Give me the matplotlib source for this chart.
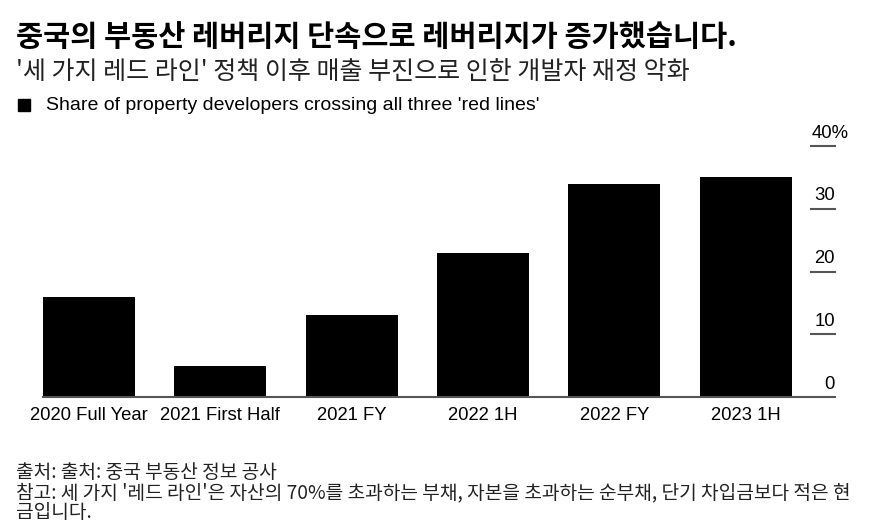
import matplotlib.pyplot as plt

# data
categories = ['2020 Full Year', '2021 First Half', '2021 FY', '2022 1H', '2022 FY', '2023 1H']
share = [16, 5, 13, 23, 34, 35]
y_ticks = [0, 10, 20, 30, 40]

KR = ['Noto Sans CJK KR', 'DejaVu Sans']
LAT = ['Liberation Sans', 'DejaVu Sans']

fig = plt.figure(figsize=(8.75, 5.31), dpi=100)
W, H = 875, 531

def fx(px):
    return px / W

def fy(py):
    return 1 - py / H

ax = fig.add_axes([fx(43), fy(397), fx(835) - fx(43), fy(146) - fy(397)])

x = list(range(len(categories)))
ax.bar(x, share, width=0.7, color='black', zorder=2)
ax.set_xlim(-0.35, 5.68)
ax.set_ylim(0, 40)

for s in ['top', 'right', 'left']:
    ax.spines[s].set_visible(False)
ax.spines['bottom'].set_color('#555555')
ax.spines['bottom'].set_linewidth(1.5)

ax.set_yticks([])
ax.set_xticks(x)
ax.set_xticklabels(categories, fontfamily=LAT, fontsize=13.3)
ax.tick_params(axis='x', length=0, pad=7.5)

# short tick lines on the right with labels sitting above them
for v in y_ticks[1:]:
    ax.plot([5.5, 5.68], [v, v], color='#555555', lw=1.5, clip_on=False, zorder=3)
for v in y_ticks[:-1]:
    ax.annotate(str(v), xy=(5.68, v), xytext=(0, 6), textcoords='offset points',
                ha='right', va='baseline', fontsize=13.3, fontfamily=LAT,
                annotation_clip=False)
ax.annotate(f'{y_ticks[-1]}%', xy=(5.68, y_ticks[-1]), xytext=(-17, 6),
            textcoords='offset points', ha='left', va='baseline', fontsize=13.3,
            fontfamily=LAT, annotation_clip=False)

fig.text(fx(16), fy(37), '중국의 부동산 레버리지 단속으로 레버리지가 증가했습니다.',
         fontfamily=KR, fontsize=21.2, fontweight='bold', va='center', ha='left')
fig.text(fx(16), fy(72), "'세 가지 레드 라인' 정책 이후 매출 부진으로 인한 개발자 재정 악화",
         fontfamily=KR, fontsize=18, va='center', ha='left', color='#222222')
fig.patches.append(plt.Rectangle((fx(18), fy(111)), fx(12), fy(99) - fy(111),
                                 transform=fig.transFigure, color='black'))
fig.text(fx(46), fy(105), "Share of property developers crossing all three 'red lines'",
         fontfamily=LAT, fontsize=14, va='center', ha='left')

foot = dict(fontfamily=KR, fontsize=13.8, va='center', ha='left', color='#222222')
fig.text(fx(16), fy(472), '출처: 출처: 중국 부동산 정보 공사', **foot)
fig.text(fx(16), fy(493), "참고: 세 가지 '레드 라인'은 자산의 70%를 초과하는 부채, 자본을 초과하는 순부채, 단기 차입금보다 적은 현", **foot)
fig.text(fx(16), fy(513), '금입니다.', **foot)

fig.savefig('out.png', dpi=100)
